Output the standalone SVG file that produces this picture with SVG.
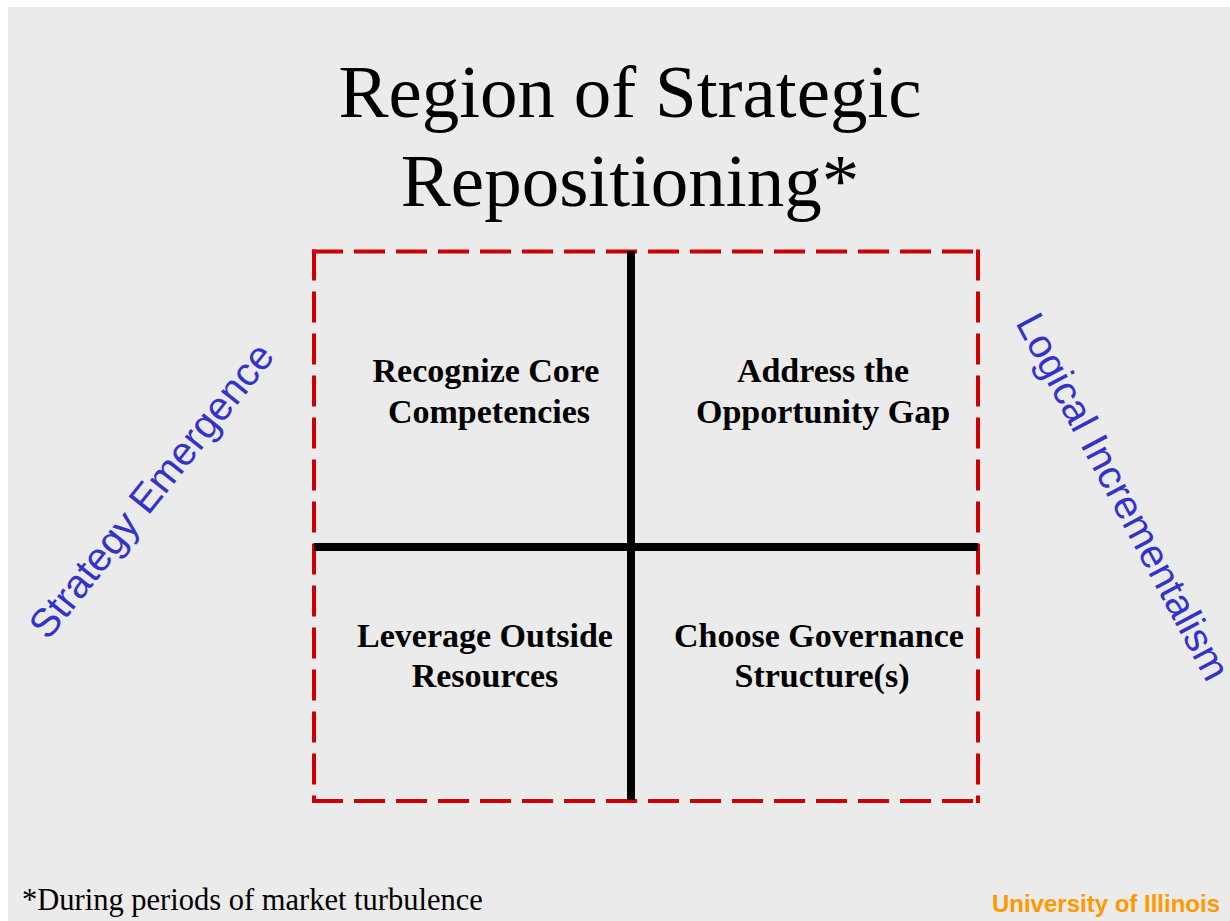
<svg xmlns="http://www.w3.org/2000/svg" width="1230" height="921" viewBox="0 0 1230 921">
<style>
.title{font-family:"Liberation Serif","Times New Roman",serif;font-size:75px;fill:#000;text-anchor:middle}
.q{font-family:"Liberation Serif","Times New Roman",serif;font-size:34px;font-weight:bold;fill:#000;text-anchor:middle}
.side{font-family:"Liberation Sans",Arial,sans-serif;font-size:40px;fill:#3333cc;text-anchor:middle}
.dash{stroke:#cc0000;stroke-width:4;stroke-dasharray:31 11;fill:none}
.bar{stroke:#000;stroke-width:8}
</style>
<rect x="0" y="0" width="1230" height="921" fill="#ffffff"/>
<rect x="8" y="7" width="1222" height="914" fill="#ebebeb"/>
<g id="title">
<text class="title" x="630" y="117">Region of Strategic</text>
<text class="title" x="630" y="206">Repositioning*</text>
</g>
<g id="frame">
<line class="dash" x1="312" y1="251.5" x2="980" y2="251.5"/>
<line class="dash" x1="314" y1="249.5" x2="314" y2="803"/>
<line class="dash" x1="978" y1="249.5" x2="978" y2="803"/>
<line class="dash" x1="312" y1="801" x2="980" y2="801"/>
</g>
<g id="connectors">
<line class="bar" x1="631" y1="251" x2="631" y2="800"/>
<line class="bar" x1="314" y1="547" x2="978" y2="547"/>
</g>
<g id="q1">
<text class="q" x="486" y="382">Recognize Core</text>
<text class="q" x="489" y="423">Competencies</text>
</g>
<g id="q2">
<text class="q" x="823" y="382">Address the</text>
<text class="q" x="823" y="423">Opportunity Gap</text>
</g>
<g id="q3">
<text class="q" x="485" y="647">Leverage Outside</text>
<text class="q" x="485" y="687">Resources</text>
</g>
<g id="q4">
<text class="q" x="819" y="647">Choose Governance</text>
<text class="q" x="822" y="687">Structure(s)</text>
</g>
<g id="strategy-emergence">
<text class="side" transform="translate(162,499) rotate(-51.3)">Strategy Emergence</text>
</g>
<g id="logical-incrementalism">
<text class="side" transform="translate(1111,503) rotate(62)">Logical Incrementalism</text>
</g>
<g id="footer">
<text x="22" y="910" style="font-family:'Liberation Serif','Times New Roman',serif;font-size:30.5px;fill:#000">*During periods of market turbulence</text>
<text x="1220" y="912" style="font-family:'Liberation Sans',Arial,sans-serif;font-size:24px;font-weight:bold;fill:#ff9900;text-anchor:end">University of Illinois</text>
</g>
</svg>
